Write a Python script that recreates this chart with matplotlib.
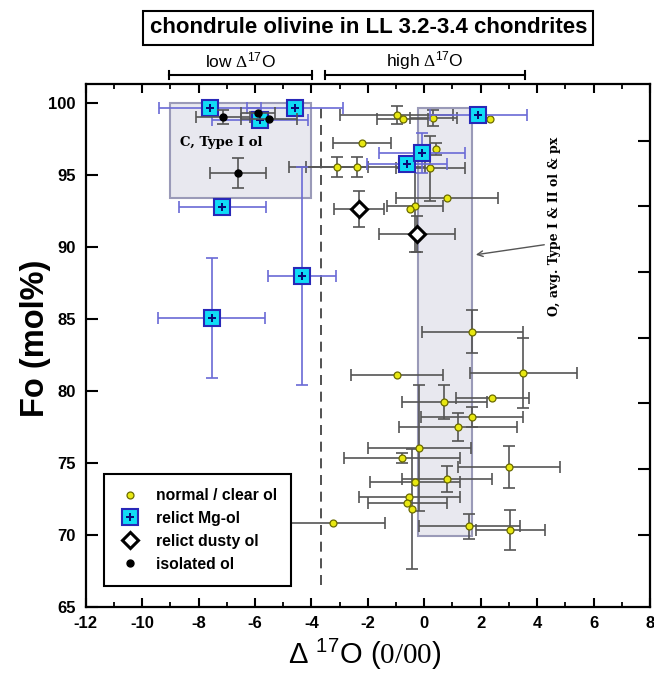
import numpy as np
import matplotlib
matplotlib.use("Agg")
import matplotlib.pyplot as plt
from matplotlib.lines import Line2D
from matplotlib.patches import Rectangle
from matplotlib.ticker import MultipleLocator

plt.rcParams['font.family'] = ['Liberation Sans', 'DejaVu Sans']
plt.rcParams['axes.unicode_minus'] = False
plt.rcParams['mathtext.fontset'] = 'custom'
plt.rcParams['mathtext.rm'] = 'Liberation Serif'
plt.rcParams['mathtext.sf'] = 'Liberation Sans'
plt.rcParams['mathtext.it'] = 'Liberation Sans:italic'
plt.rcParams['mathtext.bf'] = 'Liberation Sans:bold'

nan = np.nan

# normal / clear olivine
normal_x = [-0.97, -0.76, 0.32, 2.34, -2.20, -3.10, -2.38, 0.41, 0.21, 0.81, -0.32, -0.50,
            1.70, -0.96, 3.51, 2.41, 0.71, 1.70, 1.20, -0.18, -0.79, 3.01, -0.32, 0.81,
            -0.53, -0.60, -0.43, -3.23, 1.60, 3.05]
normal_y = [99.19, 98.91, 98.98, 98.91, 97.25, 95.58, 95.58, 96.83, 95.5, 93.42, 92.89, 92.66,
            84.12, 81.11, 81.25, 79.51, 79.24, 78.19, 77.5, 76.04, 75.34, 74.71, 73.67, 73.88,
            72.63, 72.21, 71.79, 70.82, 70.61, 70.33]
normal_xerr = [2.0, 0.9, 0.83, nan, 1.03, 1.1, 2.4, nan, 1.22, 1.81, 1.0, nan,
               1.79, 1.63, 1.9, 1.3, 1.5, 1.8, 2.1, 1.83, 2.07, 1.8, 1.6, 1.6,
               1.8, 1.4, nan, 1.85, 1.8, 1.22]
normal_yerr = [0.6, nan, 0.55, nan, nan, 0.7, 0.7, 0.4, 2.26, nan, 3.2, nan,
               1.5, nan, 2.43, nan, 1.2, 0.7, 1.0, 4.4, 0.35, 1.46, nan, 0.9,
               nan, nan, 4.2, nan, 0.87, 1.39]

# relict Mg-olivine
relict_x = [-7.59, -4.58, -5.82, -7.16, -7.53, -4.34, 1.92, -0.61, -0.07]
relict_y = [99.66, 99.68, 98.85, 92.8, 85.06, 88.0, 99.19, 95.78, 96.55]
relict_xerr = [1.8, 1.7, 1.7, 1.55, 1.9, 1.2, 1.73, 1.42, 1.52]
relict_yerr = [nan, nan, nan, nan, 4.17, 7.58, nan, nan, 1.39]

# relict dusty olivine
dusty_x = [-2.31, -0.25]
dusty_y = [92.66, 90.92]
dusty_xerr = [0.89, 1.35]
dusty_yerr = [1.25, 1.25]

# isolated olivine
iso_x = [-7.13, -5.89, -5.50, -6.60]
iso_y = [99.05, 99.33, 98.92, 95.15]
iso_xerr = [0.95, 0.6, 1.0, 1.0]
iso_yerr = [0.5, nan, nan, 1.04]

right_ticks = [70.0, 74.57, 79.14, 83.71, 88.28, 92.85, 97.42]

yellow = '#e8e812'
olive = '#6b6b00'
cyan = '#10dcf5'
blue = '#2828b8'
navy = '#0a0a78'
gray_err = '#555555'
blue_err = '#6a6ad6'

fig = plt.figure(figsize=(6.54, 6.8), dpi=100)
ax = fig.add_axes([0.131, 0.1078, 0.8629, 0.7682])
ax.set_xlim(-12, 8)
ax.set_ylim(65, 101.33)

# shaded ranges
ax.add_patch(Rectangle((-9.0, 93.4), 5.0, 6.6, facecolor='#e8e8ef', edgecolor='#9a9ab8',
                       lw=1.5, zorder=0.5))
ax.add_patch(Rectangle((-0.23, 69.9), 1.93, 29.8, facecolor='#e8e8ef', edgecolor='#9a9ab8',
                       lw=1.5, zorder=0.5))
ax.plot([-3.67, -3.67], [66.5, 100.0], color='#333333', lw=1.2, ls=(0, (6, 4)), zorder=0.8)

ax.text(-8.65, 97.25, 'C, Type I ol', family='DejaVu Serif', weight='bold', fontsize=9.5,
        va='center', ha='left', zorder=1)
ax.text(4.6, 91.47, 'O, avg. Type I & II ol & px', family='DejaVu Serif', weight='bold',
        fontsize=9, rotation=90, va='center', ha='center')
ax.annotate('', xy=(1.73, 89.45), xytext=(4.35, 90.2),
            arrowprops=dict(arrowstyle='->', color='#555555', lw=1))

# normal
ax.errorbar(normal_x, normal_y, xerr=normal_xerr, yerr=normal_yerr, fmt='none',
            ecolor=gray_err, elinewidth=1.2, capsize=4, capthick=1.2, zorder=2)
ax.plot(normal_x, normal_y, ls='none', marker='o', ms=5, mfc=yellow, mec=olive, mew=0.9,
        zorder=2.5)

# relict Mg-ol
ax.errorbar(relict_x, relict_y, xerr=relict_xerr, yerr=relict_yerr, fmt='none',
            ecolor=blue_err, elinewidth=1.2, capsize=4, capthick=1.2, zorder=3)
ax.plot(relict_x, relict_y, ls='none', marker='s', ms=11.5, mfc=cyan, mec=blue, mew=1.5,
        zorder=3.5)
ax.plot(relict_x, relict_y, ls='none', marker='P', ms=5.5, color=navy, mew=0, zorder=3.6)

# dusty
ax.errorbar(dusty_x, dusty_y, xerr=dusty_xerr, yerr=dusty_yerr, fmt='none',
            ecolor=gray_err, elinewidth=1.2, capsize=4, capthick=1.2, zorder=3)
ax.plot(dusty_x, dusty_y, ls='none', marker='D', ms=8, mfc='white', mec='black', mew=2.2,
        zorder=3.5)

# isolated
ax.errorbar(iso_x, iso_y, xerr=iso_xerr, yerr=iso_yerr, fmt='none',
            ecolor=gray_err, elinewidth=1.2, capsize=4, capthick=1.2, zorder=4)
ax.plot(iso_x, iso_y, ls='none', marker='o', ms=5, color='black', zorder=4.5)

# axes styling
for s in ax.spines.values():
    s.set_linewidth(1.6)
ax.xaxis.set_major_locator(MultipleLocator(2))
ax.xaxis.set_minor_locator(MultipleLocator(1))
ax.yaxis.set_major_locator(MultipleLocator(5))
ax.tick_params(axis='x', which='major', direction='in', length=6.5, width=1.5, top=True,
               bottom=True, labelsize=12, pad=7)
ax.tick_params(axis='x', which='minor', direction='in', length=3.5, width=1.3, top=True,
               bottom=True)
ax.tick_params(axis='y', which='major', direction='in', length=8.5, width=1.5, right=False,
               labelsize=12, pad=7)
for lab in ax.get_xticklabels() + ax.get_yticklabels():
    lab.set_fontweight('bold')

ax2 = ax.twinx()
ax2.set_ylim(ax.get_ylim())
ax2.set_yticks(right_ticks)
ax2.tick_params(axis='y', direction='in', length=8.5, width=1.5, labelright=False)
for s in ax2.spines.values():
    s.set_visible(False)

# legend
h_normal = Line2D([], [], ls='none', marker='o', ms=5, mfc=yellow, mec=olive, mew=0.9)
h_sq = Line2D([], [], ls='none', marker='s', ms=11.5, mfc=cyan, mec=blue, mew=1.5)
h_plus = Line2D([], [], ls='none', marker='P', ms=5.5, color=navy, mew=0)
h_dusty = Line2D([], [], ls='none', marker='D', ms=8, mfc='white', mec='black', mew=2.2)
h_iso = Line2D([], [], ls='none', marker='o', ms=5, color='black')
leg = ax.legend([h_normal, (h_sq, h_plus), h_dusty, h_iso],
                ['normal / clear ol', 'relict Mg-ol', 'relict dusty ol', 'isolated ol'],
                loc='lower left', bbox_to_anchor=(0.032, 0.04), borderaxespad=0,
                prop=dict(weight='bold', size=11.3), fancybox=False, framealpha=1,
                edgecolor='black', borderpad=0.9, labelspacing=0.5, handlelength=1.6,
                handletextpad=0.8)
leg.get_frame().set_linewidth(1.5)
leg.set_zorder(10)

# low / high brackets above the frame
y_br = 101.97
for x0, x1, lab in [(-9.04, -3.97, 'low'), (-3.51, 3.58, 'high')]:
    ax.plot([x0, x1], [y_br, y_br], color='black', lw=1.5, clip_on=False)
    ax.plot([x0, x0], [y_br - 0.3, y_br + 0.3], color='black', lw=1.5, clip_on=False)
    ax.plot([x1, x1], [y_br - 0.3, y_br + 0.3], color='black', lw=1.5, clip_on=False)
    ax.text((x0 + x1) / 2, 103.0, lab + r' $\Delta^{\mathsf{17}}$O', fontsize=12.5,
            ha='center', va='center')

fig.text(0.563, 0.959, 'chondrule olivine in LL 3.2-3.4 chondrites', fontsize=16,
         weight='bold', ha='center', va='center',
         bbox=dict(boxstyle='square,pad=0.28', fc='white', ec='black', lw=1.5))

fig.text(0.054, 0.503, 'Fo (mol%)', fontsize=23.5, weight='bold', rotation=90,
         ha='center', va='center')
fig.text(0.558, 0.037, r'Δ $^{\mathsf{17}}$O ($\mathrm{0/00}$)', fontsize=21,
         ha='center', va='center')

fig.savefig('out.png', dpi=100)
